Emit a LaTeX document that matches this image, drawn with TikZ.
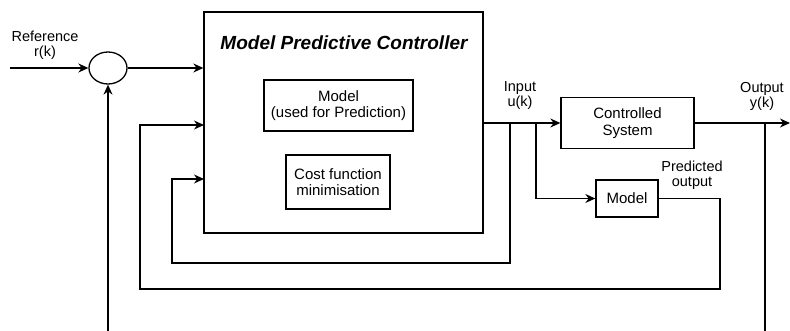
\documentclass[tikz,border=0pt]{standalone}
\usepackage{fontspec}
\setmainfont{Liberation Sans}
\usetikzlibrary{arrows.meta,positioning,shapes.geometric}

\begin{document}
\begin{tikzpicture}[x=1pt,y=-1pt,line width=1.3pt,
    blk/.style={draw,align=center,inner sep=0pt,font=\fontsize{15}{16.5}\selectfont},
    lbl/.style={align=center,font=\fontsize{14.5}{15}\selectfont},
    >={Stealth[length=10pt,width=9pt]}]
  \useasboundingbox (0,0) rectangle (790,331);
  % controller and its parts
  \node[blk,minimum width=279pt,minimum height=221pt] (mpc) at (343.5,122.5) {};
  \node[font=\fontsize{19}{21}\selectfont\bfseries\itshape] (title) at (344,43) {Model Predictive Controller};
  \node[blk,minimum width=149pt,minimum height=51pt] (pmodel) at (338.5,105.5) {Model\\(used for Prediction)};
  \node[blk,minimum width=104pt,minimum height=54pt] (cost) at (338,182) {Cost function\\minimisation};
  \node[draw,ellipse,minimum width=38pt,minimum height=32pt,inner sep=0pt] (sum) at (108,68) {};
  \node[blk,minimum width=133pt,minimum height=51pt] (plant) at (627.5,123) {Controlled\\System};
  \node[blk,minimum width=62pt,minimum height=37pt] (model) at (627,198.5) {Model};
  % labels
  \node[lbl] (rlbl) at (45,45) {Reference\\r(k)};
  \node[lbl] (ulbl) at (520,96) {Input\\u(k)};
  \node[lbl] (ylbl) at (762,96) {Output\\y(k)};
  \node[lbl] (plbl) at (692,175) {Predicted\\output};
  % free ends and branch points
  \coordinate (rin) at (10,68);
  \coordinate (yout) at (790,123);
  \coordinate (in2) at (204,125);
  \coordinate (in3) at (204,179);
  \coordinate (b1) at (510,123);
  \coordinate (b2) at (536,123);
  \coordinate (b3) at (765,123);
  \coordinate (fb1) at (108,331);
  \coordinate (fb2) at (765,331);
  % signals
  \draw[->] (rin) -- (sum.west);
  \draw[->] (sum.east) -- (sum.east -| mpc.west);
  \draw[->] (mpc.east |- plant.west) -- (plant.west);
  \draw[->] (plant.east) -- (yout);
  \draw[->] (b2) |- (model.west);
  \draw[->] (b1) |- (172,263) |- (in3);
  \draw[->] (model.east) -| (720,289) -| (140,125) -- (in2);
  \draw (b3) -- (fb2);
  \draw[->] (fb1) -- (sum.south);
\end{tikzpicture}
\end{document}
